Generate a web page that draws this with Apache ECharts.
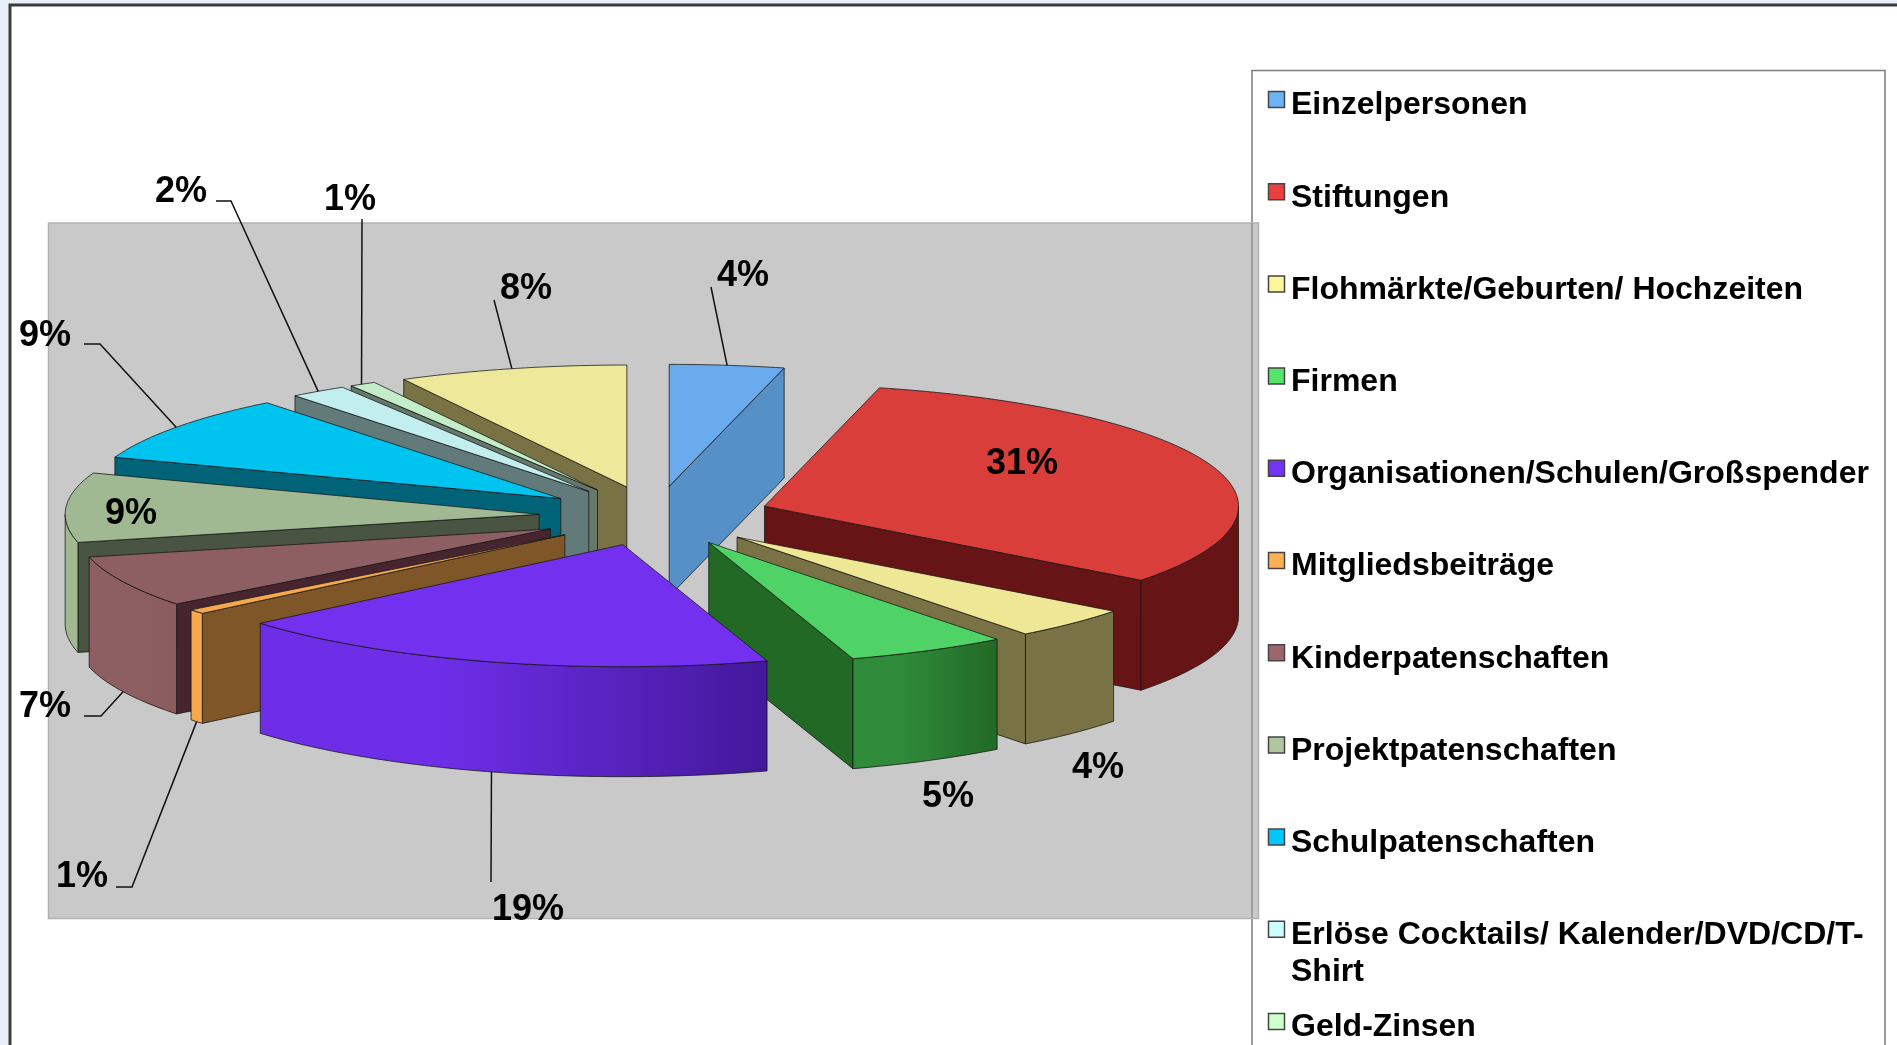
<!DOCTYPE html>
<html>
<head>
<meta charset="utf-8">
<title>Einnahmen</title>
<style>
html, body { margin: 0; padding: 0; background: #e8eff9; }
#chart { width: 1897px; height: 1045px; }
</style>
<script src="https://cdn.jsdelivr.net/npm/echarts@6/dist/echarts.min.js"></script>
</head>
<body>
<div id="chart"></div>
<script>
// slices clockwise from 12 o'clock. last one has no legend row in the picture (cut off at the bottom)
const categories = ['Einzelpersonen', 'Stiftungen', 'Flohmärkte/Geburten/ Hochzeiten', 'Firmen',
    'Organisationen/Schulen/Großspender', 'Mitgliedsbeiträge', 'Kinderpatenschaften', 'Projektpatenschaften',
    'Schulpatenschaften', 'Erlöse Cocktails/ Kalender/DVD/CD/T-\nShirt', 'Geld-Zinsen', ''];
const values = [3.9, 31.49, 4.2, 5.49, 18.78, 0.6, 6.84, 9.2, 8.86, 1.94, 0.9, 7.8];

const legendColors = ['#6db2f6', '#ea4040', '#fff59d', '#55e568', '#7433f5', '#ffb052', '#9a686c', '#afc69f', '#00c8fb', '#ccffff', '#ccffcc', '#fff59d'];
const topColors = ['#6aabee', '#d93e3a', '#eee795', '#50d366', '#7330ee', '#f5a94c', '#8d5e62', '#a0b992', '#00c4f0', '#c3eef0', '#c3edc8', '#eee99a'];
const wallColors = ['#5590c7', '#661416', '#787245', '#226926', '#43189a', '#7f5628', '#47252f', '#4a5442', '#006378', '#637a7b', '#65796a', '#787245'];
const arcLeftColors = ['#5590c7', '#661416', '#787245', '#2f8a3a', '#6e2ee8', '#f5a94c', '#8d5e62', '#a0b992', '#006378', '#637a7b', '#65796a', '#787245'];
const arcRightColors = ['#5590c7', '#661416', '#787245', '#226926', '#43189a', '#f5a94c', '#8a5c60', '#a0b992', '#006378', '#637a7b', '#65796a', '#787245'];

// label placement: [text centre x, text centre y, elbow x, elbow y, line start x, line start y]
// null elbow = straight leader, two numbers only = no leader at all
const labelLayout = [
    [743, 276, null, null, 711, 287],
    [1022, 464],
    [1098, 768],
    [948, 797],
    [528, 910, null, null, 491, 882],
    [82, 877, 132, 887, 116, 887],
    [45, 707, 101, 716, 84, 716],
    [131, 514],
    [45, 336, 100, 344, 84, 344],
    [181, 192, 231, 201, 216, 201],
    [350, 200, null, null, 362, 219],
    [526, 289, null, null, 494, 300]
];
// where along the slice's rim the leader lands, 0 = start edge, 1 = end edge
const leaderShare = [0.5, 0.5, 0.5, 0.5, 0.5, 0.5, 0.5, 0.5, 0.5, 0.5, 0.45, 0.5];

// pie geometry
const cx = 655, cy = 516, rx = 474, ry = 122, explode = 116, depth = 110;
const total = values.reduce((a, b) => a + b, 0);
const squash = ry / rx;

let acc = 0;
const slices = values.map((v, i) => {
    const a0 = acc / total * Math.PI * 2;
    acc += v;
    const a1 = acc / total * Math.PI * 2;
    const mid = (a0 + a1) / 2;
    return {
        i, a0, a1, mid,
        ax: cx + explode * Math.sin(mid),
        ay: cy - explode * squash * Math.cos(mid)
    };
});

function rimPoint(s, a, drop) {
    return [s.ax + rx * Math.sin(a), s.ay - ry * Math.cos(a) + (drop || 0)];
}

function arcPoints(s, from, to, drop) {
    const pts = [];
    const n = Math.max(2, Math.ceil((to - from) / 0.02));
    for (let k = 0; k <= n; k++) {
        pts.push(rimPoint(s, from + (to - from) * k / n, drop));
    }
    return pts;
}

// back slices first, same idea as the painter order in the picture
const drawOrder = slices.slice().sort((a, b) => -Math.cos(a.mid) - -Math.cos(b.mid)).map(s => s.i);

function renderSlice(params, api) {
    const s = slices[api.value(0)];
    const i = s.i;
    const edge = { stroke: 'rgba(20,20,20,0.75)', lineWidth: 1 };
    const children = [];

    function radialWall(a) {
        const p = rimPoint(s, a, 0);
        children.push({
            type: 'polygon',
            shape: { points: [[s.ax, s.ay], p, [p[0], p[1] + depth], [s.ax, s.ay + depth]] },
            style: Object.assign({ fill: wallColors[i] }, edge)
        });
    }
    if (Math.sin(s.a0) < -0.001) radialWall(s.a0);
    if (Math.sin(s.a1) > 0.001) radialWall(s.a1);

    const from = Math.max(s.a0, Math.PI / 2);
    const to = Math.min(s.a1, Math.PI * 1.5);
    if (to > from) {
        const pts = arcPoints(s, from, to, 0).concat(arcPoints(s, from, to, depth).reverse());
        children.push({
            type: 'polygon',
            shape: { points: pts },
            style: Object.assign({
                fill: new echarts.graphic.LinearGradient(0, 0, 1, 0, [
                    { offset: 0, color: arcLeftColors[i] },
                    { offset: 0.35, color: arcLeftColors[i] },
                    { offset: 1, color: arcRightColors[i] }
                ])
            }, edge)
        });
    }

    children.push({
        type: 'polygon',
        shape: { points: [[s.ax, s.ay]].concat(arcPoints(s, s.a0, s.a1, 0)) },
        style: Object.assign({ fill: topColors[i] }, edge)
    });
    return { type: 'group', children };
}

function renderLabel(params, api) {
    const i = api.value(0);
    const s = slices[i];
    const l = labelLayout[i];
    const children = [];
    if (l.length > 2) {
        // leader goes to the rim, on the side wall's lower edge for the front slices
        const a = s.a0 + (s.a1 - s.a0) * leaderShare[i];
        const front = Math.cos(a) < 0;
        const end = rimPoint(s, a, front ? depth : 0);
        const pts = [[l[4], l[5]]];
        if (l[2] !== null) pts.push([l[2], l[3]]);
        pts.push(end);
        children.push({
            type: 'polyline',
            shape: { points: pts },
            style: { stroke: '#111', lineWidth: 1.5, fill: null }
        });
    }
    children.push({
        type: 'text',
        style: {
            text: Math.round(values[i] / total * 100) + '%',
            x: l[0], y: l[1],
            align: 'center', verticalAlign: 'middle',
            font: 'bold 36px "Liberation Sans", Arial, sans-serif',
            fill: '#000'
        }
    });
    return { type: 'group', children };
}

const graphicEls = [
    // white panel with dark border, runs off the right and bottom of the page
    { type: 'rect', shape: { x: 10, y: 5, width: 1960, height: 1100 },
      style: { fill: '#fff', stroke: '#3c3c3c', lineWidth: 3 } },
    { type: 'rect', shape: { x: 1252, y: 70.5, width: 633, height: 1100 },
      style: { fill: '#fff', stroke: '#7d7d7d', lineWidth: 1.5 } },
    { type: 'rect', shape: { x: 48.5, y: 223, width: 1210, height: 695.5 },
      style: { fill: '#c9c9c9', stroke: '#b2b2b2', lineWidth: 1.5 } },
    { type: 'line', shape: { x1: 1252, y1: 223, x2: 1252, y2: 918 },
      style: { stroke: '#8f8f8f', lineWidth: 1.5 } }
];

categories.forEach((name, i) => {
    if (!name) return;
    const y = 103 + i * 92.2;
    graphicEls.push({
        type: 'rect',
        shape: { x: 1268.5, y: y - 11.5, width: 16, height: 16 },
        style: { fill: legendColors[i], stroke: '#444', lineWidth: 1.5 }
    });
    graphicEls.push({
        type: 'text',
        style: {
            text: name,
            x: 1291, y: y - 16,
            align: 'left', verticalAlign: 'top',
            font: 'bold 32px "Liberation Sans", Arial, sans-serif',
            lineHeight: 37,
            fill: '#000'
        }
    });
});

const myChart = echarts.init(document.getElementById('chart'));
myChart.setOption({
    animation: false,
    backgroundColor: '#e8eff9',
    graphic: { elements: graphicEls },
    series: [
        {
            type: 'custom',
            coordinateSystem: 'none',
            renderItem: renderSlice,
            data: drawOrder.map(i => [i]),
            silent: true,
            z: 3
        },
        {
            type: 'custom',
            coordinateSystem: 'none',
            renderItem: renderLabel,
            data: values.map((v, i) => [i]),
            silent: true,
            z: 4
        }
    ]
});
</script>
</body>
</html>
